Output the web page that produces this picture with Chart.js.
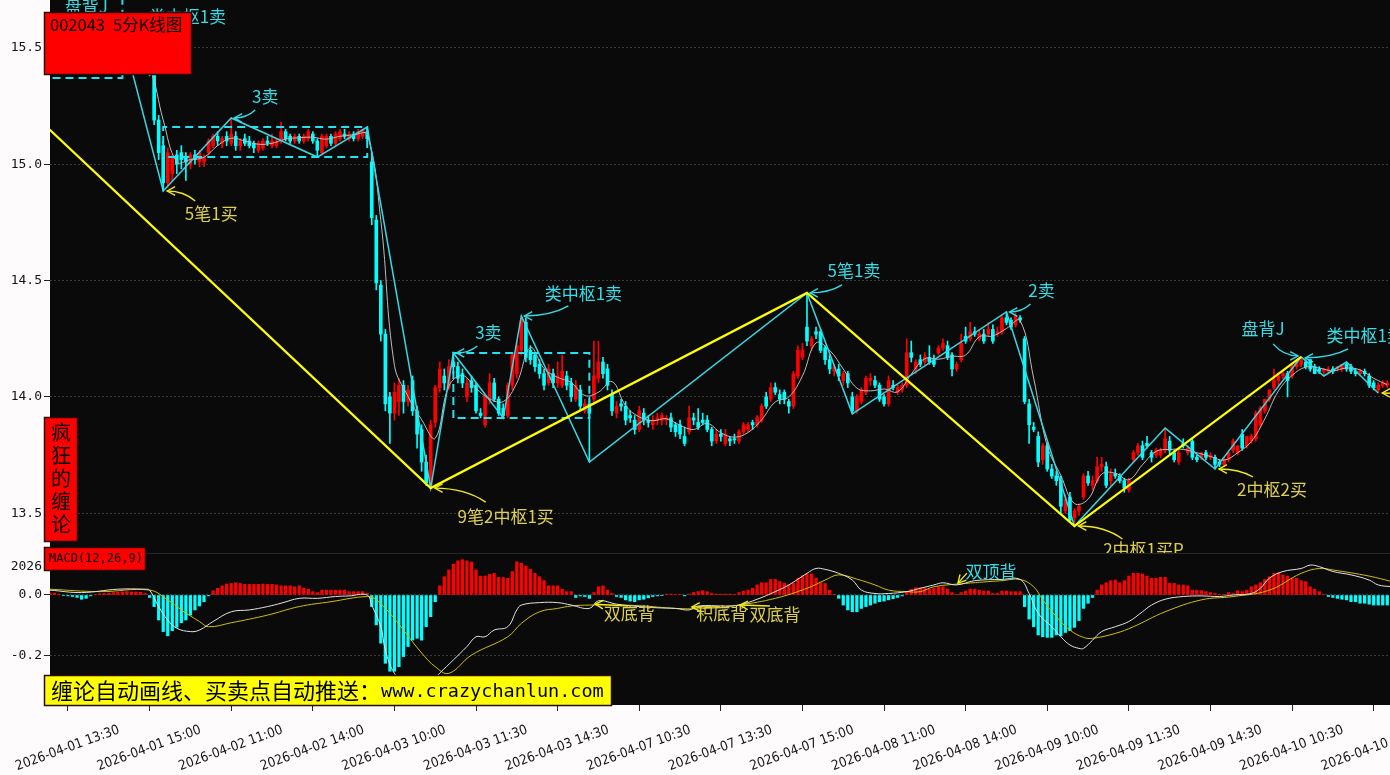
<!DOCTYPE html>
<html>
<head>
<meta charset="utf-8">
<script src="https://cdn.jsdelivr.net/npm/chart.js@4.4.1/dist/chart.umd.min.js"></script>
<style>
  html, body { margin: 0; padding: 0; background: #fdfbfb; }
  canvas { display: block; }
</style>
</head>
<body>
<canvas id="kline" width="1390" height="775"></canvas>
<script>
// 002043 5-minute bars, first bar = index -4 (2026-04-01 13:10)
const firstIdx = -4;

const opens = [
  // 04-01 13:10 - 15:00
  15.48,15.46,15.49,15.47,15.43,15.45,15.44,15.41,15.44,15.47,15.49,15.48,15.52,15.50,15.53,15.54,15.51,15.48,15.45,15.42,15.44,15.41,15.40,
  // 04-02
  15.39,15.19,15.08,14.92,14.96,15.04,15.05,15.03,15.00,15.04,15.01,15.01,15.05,15.08,15.12,15.09,15.12,15.09,15.12,15.08,15.11,15.10,15.09,15.06,
  15.07,15.10,15.08,15.08,15.10,15.14,15.12,15.10,15.12,15.10,15.11,15.13,15.10,15.05,15.08,15.12,15.09,15.11,15.13,15.11,15.13,15.11,15.12,15.14,
  // 04-03
  15.01,14.76,14.48,14.27,14.00,13.93,13.98,14.05,13.98,14.07,13.94,13.86,13.72,13.62,13.89,14.04,14.09,14.04,14.15,14.13,14.10,14.00,14.07,14.05,
  13.93,13.88,13.99,14.06,13.99,13.95,13.92,14.05,14.10,14.20,14.32,14.20,14.18,14.14,14.10,14.06,14.10,14.06,14.05,14.09,14.06,13.99,14.03,13.94,
  // 04-07
  13.97,13.99,14.08,14.15,14.12,14.01,13.93,13.97,13.96,13.92,13.90,13.86,13.93,13.90,13.88,13.90,13.90,13.90,13.91,13.88,13.88,13.83,13.85,13.91,
  13.89,13.90,13.90,13.86,13.81,13.84,13.80,13.82,13.82,13.81,13.85,13.86,13.89,13.88,13.90,14.00,13.99,14.04,14.01,14.02,13.98,13.96,14.09,14.17,
  // 04-08
  14.30,14.22,14.28,14.28,14.21,14.16,14.11,14.12,14.07,14.10,14.00,13.94,13.98,14.02,14.07,14.07,14.05,14.00,13.97,14.05,14.02,14.03,14.05,14.19,
  14.12,14.16,14.15,14.17,14.16,14.19,14.21,14.22,14.18,14.12,14.16,14.26,14.25,14.28,14.25,14.27,14.27,14.29,14.27,14.28,14.34,14.33,14.31,14.34,
  // 04-09
  14.25,13.97,13.87,13.83,13.73,13.79,13.69,13.66,13.64,13.51,13.57,13.48,13.51,13.57,13.66,13.62,13.64,13.70,13.70,13.64,13.67,13.66,13.64,13.60,
  13.73,13.76,13.79,13.80,13.76,13.75,13.75,13.77,13.81,13.76,13.72,13.80,13.76,13.81,13.74,13.74,13.76,13.74,13.74,13.72,13.71,13.73,13.77,13.76,
  // 04-10 09:35 - 13:45
  13.84,13.79,13.81,13.82,13.88,13.94,13.99,14.04,14.07,14.09,14.10,14.09,14.13,14.14,14.15,14.16,14.13,14.12,14.11,14.11,14.12,14.12,14.12,14.14,
  14.13,14.11,14.10,14.11,14.09,14.06,14.03,14.05,14.05
];
const highs = [
  15.52,15.50,15.51,15.49,15.46,15.48,15.46,15.45,15.48,15.50,15.52,15.53,15.54,15.54,15.55,15.55,15.56,15.50,15.47,15.45,15.46,15.43,15.42,
  15.40,15.21,15.10,15.07,15.04,15.06,15.08,15.05,15.05,15.06,15.06,15.04,15.11,15.13,15.14,15.12,15.14,15.199,15.14,15.11,15.13,15.12,15.10,15.10,
  15.11,15.12,15.13,15.11,15.18,15.15,15.13,15.13,15.13,15.13,15.15,15.14,15.11,15.13,15.13,15.13,15.14,15.15,15.15,15.14,15.14,15.15,15.15,15.16,
  15.05,14.78,14.50,14.29,14.02,14.06,14.08,14.07,14.05,14.09,13.96,13.88,13.75,13.90,14.05,14.15,14.12,14.16,14.189,14.15,14.12,14.08,14.09,14.06,
  13.95,14.01,14.10,14.08,14.00,13.97,14.06,14.19,14.24,14.348,14.34,14.22,14.19,14.16,14.12,14.14,14.12,14.15,14.18,14.11,14.08,14.07,14.05,13.99,
  14.00,14.24,14.24,14.17,14.14,14.03,13.98,13.99,13.98,13.94,13.92,13.96,13.95,13.92,13.92,13.93,13.93,13.92,13.93,13.89,13.90,13.87,13.96,13.93,
  13.95,13.93,13.92,13.87,13.86,13.86,13.86,13.83,13.84,13.86,13.89,13.89,13.90,13.92,13.97,14.02,14.06,14.06,14.03,14.03,13.99,14.11,14.22,14.23,
  14.447,14.26,14.30,14.29,14.22,14.18,14.14,14.14,14.11,14.11,14.02,14.01,14.04,14.09,14.10,14.09,14.06,14.01,14.09,14.07,14.05,14.06,14.25,14.24,
  14.16,14.18,14.19,14.22,14.18,14.22,14.25,14.24,14.19,14.15,14.27,14.30,14.32,14.30,14.29,14.29,14.32,14.31,14.30,14.35,14.365,14.34,14.36,14.35,
  14.26,13.99,13.89,13.85,13.80,13.80,13.71,13.68,13.66,13.58,13.59,13.52,13.54,13.67,13.68,13.66,13.74,13.74,13.72,13.69,13.69,13.67,13.65,13.65,
  13.77,13.80,13.81,13.83,13.77,13.78,13.78,13.866,13.83,13.77,13.77,13.82,13.79,13.82,13.75,13.76,13.77,13.76,13.75,13.73,13.74,13.76,13.82,13.79,
  13.86,13.83,13.84,13.94,13.96,13.99,14.03,14.12,14.10,14.11,14.11,14.14,14.16,14.172,14.16,14.16,14.14,14.13,14.12,14.13,14.13,14.13,14.14,14.15,
  14.14,14.12,14.12,14.12,14.10,14.07,14.06,14.07,14.07
];
const lows = [
  15.44,15.43,15.45,15.41,15.40,15.42,15.39,15.39,15.42,15.44,15.46,15.46,15.48,15.48,15.50,15.49,15.47,15.43,15.41,15.40,15.40,15.39,15.38,
  15.17,15.02,14.885,14.90,14.93,14.96,14.98,14.93,14.98,15.00,14.99,14.99,15.04,15.07,15.08,15.07,15.08,15.08,15.06,15.06,15.08,15.07,15.05,15.05,
  15.06,15.08,15.07,15.07,15.09,15.10,15.09,15.09,15.09,15.09,15.10,15.09,15.031,15.04,15.07,15.08,15.08,15.10,15.11,15.10,15.10,15.10,15.11,15.10,
  14.74,14.46,14.24,13.94,13.80,13.90,13.92,13.93,13.96,13.92,13.78,13.68,13.62,13.608,13.87,14.02,14.03,14.03,14.10,14.06,14.04,13.98,14.02,13.93,
  13.91,13.87,13.97,13.98,13.92,13.909,13.91,14.03,14.08,14.18,14.15,14.14,14.11,14.08,14.03,14.05,14.04,14.04,14.04,14.03,13.98,13.98,13.94,13.93,
  13.72,13.97,14.06,14.08,14.03,13.92,13.91,13.94,13.88,13.89,13.84,13.85,13.88,13.87,13.86,13.88,13.88,13.88,13.85,13.83,13.82,13.79,13.84,13.88,
  13.86,13.88,13.85,13.79,13.80,13.81,13.79,13.79,13.80,13.80,13.84,13.85,13.86,13.87,13.89,13.95,13.98,14.01,13.97,13.97,13.93,13.95,14.08,14.16,
  14.22,14.20,14.25,14.19,14.14,14.10,14.09,14.07,14.05,14.04,13.927,13.93,13.97,14.01,14.05,14.04,13.98,13.96,13.96,14.03,14.01,14.02,14.04,14.15,
  14.10,14.13,14.14,14.14,14.13,14.18,14.20,14.16,14.09,14.11,14.15,14.23,14.24,14.26,14.24,14.23,14.26,14.23,14.26,14.27,14.31,14.29,14.30,14.32,
  13.97,13.80,13.85,13.70,13.71,13.68,13.65,13.62,13.50,13.50,13.46,13.445,13.49,13.56,13.62,13.60,13.63,13.68,13.61,13.62,13.65,13.63,13.59,13.59,
  13.72,13.75,13.73,13.78,13.72,13.74,13.74,13.76,13.75,13.72,13.71,13.78,13.75,13.73,13.72,13.73,13.73,13.73,13.69,13.70,13.70,13.72,13.76,13.75,
  13.77,13.78,13.80,13.81,13.87,13.93,13.98,14.03,14.05,14.08,14.00,14.08,14.12,14.13,14.12,14.11,14.10,14.10,14.09,14.10,14.10,14.11,14.11,14.11,
  14.10,14.09,14.09,14.09,14.04,14.03,14.017,14.04,14.04
];
const closes = [
  15.46,15.49,15.47,15.43,15.45,15.44,15.41,15.44,15.47,15.49,15.48,15.52,15.50,15.53,15.54,15.51,15.48,15.45,15.42,15.44,15.41,15.40,15.39,
  15.19,15.05,14.92,15.05,15.03,15.00,15.02,15.01,15.04,15.02,15.05,15.03,15.10,15.12,15.10,15.11,15.10,15.13,15.08,15.10,15.09,15.08,15.07,15.09,
  15.10,15.09,15.10,15.10,15.14,15.11,15.10,15.12,15.10,15.12,15.14,15.10,15.06,15.12,15.12,15.09,15.13,15.14,15.12,15.13,15.11,15.14,15.15,15.11,
  14.77,14.49,14.27,13.97,13.93,14.02,14.05,13.98,14.03,13.94,13.84,13.72,13.63,13.88,14.04,14.12,14.06,14.13,14.13,14.08,14.06,14.06,14.04,13.94,
  13.92,14.00,14.06,13.99,13.93,13.92,14.05,14.18,14.22,14.33,14.17,14.16,14.13,14.10,14.05,14.12,14.06,14.09,14.11,14.05,14.00,14.05,13.96,13.97,
  13.93,14.09,14.15,14.10,14.05,13.94,13.96,13.96,13.90,13.91,13.86,13.94,13.90,13.89,13.90,13.91,13.92,13.91,13.87,13.85,13.84,13.80,13.91,13.90,
  13.87,13.89,13.86,13.81,13.84,13.83,13.84,13.81,13.815,13.85,13.88,13.88,13.88,13.91,13.96,13.96,14.04,14.02,13.99,13.99,13.96,14.10,14.20,14.20,
  14.24,14.25,14.27,14.20,14.16,14.12,14.13,14.09,14.10,14.06,13.94,14.00,14.03,14.08,14.08,14.05,13.99,13.97,14.07,14.04,14.04,14.05,14.19,14.17,
  14.15,14.14,14.17,14.15,14.14,14.21,14.23,14.17,14.12,14.14,14.23,14.24,14.28,14.27,14.27,14.24,14.29,14.24,14.28,14.34,14.32,14.30,14.35,14.33,
  13.98,13.88,13.86,13.72,13.79,13.69,13.66,13.64,13.53,13.56,13.47,13.51,13.53,13.66,13.63,13.64,13.70,13.71,13.62,13.67,13.66,13.64,13.61,13.64,
  13.76,13.79,13.74,13.79,13.74,13.77,13.77,13.82,13.77,13.73,13.76,13.79,13.78,13.74,13.73,13.76,13.74,13.75,13.71,13.71,13.73,13.76,13.81,13.79,
  13.78,13.83,13.83,13.93,13.95,13.99,14.03,14.07,14.09,14.10,14.07,14.13,14.15,14.16,14.13,14.12,14.10,14.11,14.12,14.12,14.11,14.13,14.14,14.12,
  14.11,14.10,14.11,14.10,14.05,14.04,14.05,14.06,14.06
];

// MA5 read every third bar, starting at index -3
const maStart = -3, maStep = 3;
const ma5 = [
  15.48,15.46,15.434,15.458,15.504,15.512,15.46,15.412,15.19,15.01,15.02,15.03,15.08,15.112,15.10,15.086,15.09,15.108,15.114,15.116,
  15.108,15.12,15.126,15.128,14.758,14.136,14.002,13.902,13.822,14.046,14.092,14.036,13.992,13.98,14.06,14.212,14.122,14.084,14.062,14.006,
  14.02,14.066,13.962,13.914,13.898,13.906,13.878,13.86,13.886,13.846,13.827,13.847,13.902,13.978,14.00,14.09,14.232,14.20,14.12,14.038,
  14.026,14.034,14.022,14.098,14.164,14.162,14.174,14.18,14.258,14.262,14.294,14.328,14.08,13.788,13.662,13.542,13.56,13.668,13.672,13.644,
  13.708,13.766,13.774,13.774,13.76,13.744,13.728,13.76,13.808,13.906,14.026,14.092,14.128,14.124,14.112,14.124,14.116,14.08,14.052
];

// MACD histogram, one per bar
const macdHist = [
  0.007,0.006,0.003,-0.002,-0.003,-0.005,-0.008,-0.014,-0.011,-0.003,0.002,0.004,0.005,0.006,0.008,0.009,0.010,0.011,0.010,0.010,0.009,0.005,-0.008,
  -0.038,-0.082,-0.120,-0.134,-0.117,-0.106,-0.091,-0.082,-0.066,-0.049,-0.036,-0.022,-0.003,0.014,0.022,0.030,0.036,0.038,0.040,0.038,0.035,0.035,0.035,0.035,
  0.036,0.035,0.035,0.033,0.030,0.030,0.030,0.027,0.030,0.022,0.019,0.011,0.008,0.016,0.016,0.016,0.016,0.016,0.016,0.011,0.011,0.011,0.011,0.005,
  -0.038,-0.098,-0.158,-0.224,-0.25,-0.25,-0.235,-0.202,-0.169,-0.148,-0.142,-0.148,-0.104,-0.071,-0.022,0.030,0.060,0.082,0.101,0.112,0.116,0.112,0.108,0.082,
  0.062,0.062,0.068,0.071,0.058,0.057,0.055,0.077,0.109,0.104,0.095,0.084,0.071,0.060,0.047,0.030,0.030,0.030,0.019,0.011,0.011,-0.008,-0.003,-0.005,
  -0.011,0.008,0.027,0.030,0.016,0.005,-0.005,-0.008,-0.016,-0.020,-0.022,-0.016,-0.014,-0.009,-0.005,-0.003,-0.001,0.003,0.003,0.002,0.002,-0.003,0.003,0.008,
  0.011,0.014,0.011,0.005,0.003,0.003,0.003,0.003,0.002,0.008,0.013,0.016,0.022,0.033,0.040,0.040,0.051,0.051,0.044,0.038,0.033,0.038,0.055,0.063,
  0.069,0.069,0.055,0.040,0.038,0.016,0.001,-0.011,-0.033,-0.049,-0.055,-0.055,-0.044,-0.038,-0.033,-0.027,-0.022,-0.020,-0.016,-0.012,-0.008,-0.003,0.011,0.019,
  0.024,0.024,0.022,0.019,0.022,0.027,0.027,0.019,0.008,0.001,0.008,0.013,0.019,0.019,0.016,0.013,0.013,0.005,0.005,0.013,0.013,0.011,0.011,0.011,
  -0.038,-0.079,-0.104,-0.131,-0.137,-0.139,-0.139,-0.131,-0.134,-0.123,-0.117,-0.106,-0.084,-0.044,-0.027,-0.008,0.016,0.033,0.040,0.047,0.049,0.040,0.047,0.062,
  0.071,0.071,0.069,0.062,0.055,0.055,0.058,0.058,0.038,0.038,0.033,0.033,0.030,0.016,0.016,0.014,0.011,0.008,0.005,0.001,0.001,0.008,0.005,0.014,
  0.011,0.016,0.027,0.033,0.040,0.051,0.060,0.071,0.073,0.066,0.062,0.055,0.055,0.047,0.044,0.027,0.019,0.011,0.001,-0.005,-0.008,-0.011,-0.014,-0.016,
  -0.022,-0.022,-0.027,-0.027,-0.030,-0.033,-0.033,-0.033,-0.033
];

// DIF / DEA read at [bar index, value]
const difPts = [
  [-4,0.016],[3,0.008],[11,0.019],[17,0.019],[18,0.016],[20,-0.038],[22,-0.082],[24,-0.109],[27,-0.120],[29,-0.115],[32,-0.087],[36,-0.055],
  [40,-0.049],[44,-0.038],[47,-0.027],[51,-0.011],[55,-0.011],[59,-0.005],[62,-0.003],[66,0.0],[67,-0.033],[69,-0.104],[70,-0.18],[72,-0.257],
  [75,-0.30],[78,-0.30],[80,-0.285],[82,-0.256],[85,-0.213],[88,-0.169],[90,-0.137],[92,-0.137],[94,-0.115],[97,-0.104],[99,-0.049],[100,-0.033],
  [104,-0.025],[108,-0.025],[111,-0.033],[115,-0.044],[117,-0.019],[121,-0.030],[126,-0.038],[130,-0.042],[134,-0.044],[137,-0.049],[139,-0.036],
  [145,-0.036],[148,-0.033],[152,-0.014],[156,0.011],[159,0.033],[163,0.071],[165,0.087],[167,0.084],[170,0.071],[173,0.049],[175,0.016],[178,0.005],
  [181,0.005],[185,0.011],[188,0.022],[191,0.033],[193,0.040],[196,0.033],[200,0.047],[206,0.051],[210,0.051],[212,0.005],[214,-0.060],[217,-0.104],
  [219,-0.137],[221,-0.164],[223,-0.175],[224,-0.175],[226,-0.148],[228,-0.120],[231,-0.104],[234,-0.087],[237,-0.055],[239,-0.033],[242,-0.014],
  [246,-0.005],[250,-0.003],[254,-0.005],[257,0.0],[261,0.005],[263,0.022],[265,0.055],[268,0.077],[272,0.087],[274,0.098],[276,0.093],[279,0.077],
  [283,0.066],[287,0.049],[289,0.033],[292,0.027]
];
const deaPts = [
  [-4,0.019],[7,0.011],[18,0.016],[22,-0.016],[25,-0.049],[29,-0.087],[31,-0.104],[36,-0.091],[44,-0.066],[51,-0.038],[58,-0.022],[66,-0.005],
  [68,-0.016],[71,-0.060],[74,-0.115],[78,-0.19],[81,-0.235],[84,-0.257],[89,-0.197],[97,-0.137],[100,-0.093],[104,-0.055],[108,-0.044],[111,-0.036],
  [115,-0.033],[119,-0.033],[126,-0.035],[134,-0.044],[141,-0.044],[148,-0.033],[156,-0.011],[163,0.022],[167,0.049],[170,0.066],[174,0.052],
  [178,0.033],[181,0.016],[185,0.011],[188,0.011],[191,0.027],[198,0.038],[206,0.047],[210,0.051],[213,0.027],[215,-0.016],[218,-0.071],[221,-0.115],
  [224,-0.139],[226,-0.142],[231,-0.126],[235,-0.104],[242,-0.055],[250,-0.016],[257,-0.005],[265,0.016],[272,0.071],[276,0.087],[279,0.082],
  [287,0.062],[292,0.044]
];

// strokes (bi), segments (xianduan) and pivot boxes
const biPts = [
  [-8,15.40],[12,15.56],[21,14.885],[36,15.199],[55,15.031],[66,15.16],[80,13.608],[85,14.189],[96,13.909],[100,14.348],[115,13.72],
  [163,14.447],[173,13.927],[207,14.365],[222,13.445],[242,13.866],[253,13.69],[272,14.172],[277,14.09],[282,14.15],[289,14.017]
];
const segPts = [[-30,15.624],[80,13.608],[163,14.447],[222,13.445],[272,14.172]];
const boxFrom = [-10, 21, 85];
const boxTo   = [12, 66, 115];
const boxLow  = [15.371, 15.031, 13.909];
const boxHigh = [15.75, 15.16, 14.189];

const tickIdx = [0,18,36,54,72,90,108,126,144,162,180,198,216,234,252,270,288];
const tickLabels = [
  '2026-04-01 13:30','2026-04-01 15:00','2026-04-02 11:00','2026-04-02 14:00','2026-04-03 10:00','2026-04-03 11:30',
  '2026-04-03 14:30','2026-04-07 10:30','2026-04-07 13:30','2026-04-07 15:00','2026-04-08 11:00','2026-04-08 14:00',
  '2026-04-09 10:00','2026-04-09 11:30','2026-04-09 14:30','2026-04-10 10:30','2026-04-10 13:30'
];
const priceTicks = [13.5, 14.0, 14.5, 15.0, 15.5];
const macdTicks = [-0.2, 0.0, 0.0918];
const macdTickLabels = ['-0.2', '0.0', '2026'];

const RED = '#ff0000', CYAN = '#00ffff';
const CYAN_TXT = '#35dde6', YEL_TXT = '#ddd050', YEL_ARROW = '#f2ec1a';

// buy / sell point labels: anchor (bar, price), text and arrow offsets in px
const signals = [
  {text:'盘背J',      i:12,  p:15.56,  c:CYAN_TXT, tx:-36, ty:-27, sx:-26, sy:-14, ex:-3, ey:-1},
  {text:'类中枢1卖',  i:12,  p:15.56,  c:CYAN_TXT, tx:65,  ty:-17, sx:40,  sy:-6,  ex:3,  ey:0},
  {text:'5笔1买',     i:21,  p:14.885, c:YEL_TXT,  tx:48,  ty:23,  sx:32,  sy:10,  ex:4,  ey:0, buy:true},
  {text:'3卖',        i:36,  p:15.199, c:CYAN_TXT, tx:34,  ty:-21, sx:24,  sy:-8,  ex:3,  ey:0},
  {text:'9笔2中枢1买', i:80,  p:13.608, c:YEL_TXT,  tx:75,  ty:28,  sx:55,  sy:14,  ex:4,  ey:0, buy:true},
  {text:'3卖',        i:85,  p:14.189, c:CYAN_TXT, tx:35,  ty:-20, sx:24,  sy:-7,  ex:3,  ey:0},
  {text:'类中枢1卖',  i:100, p:14.348, c:CYAN_TXT, tx:62,  ty:-22, sx:47,  sy:-10, ex:3,  ey:0},
  {text:'5笔1卖',     i:163, p:14.447, c:CYAN_TXT, tx:47,  ty:-22, sx:35,  sy:-8,  ex:3,  ey:0},
  {text:'2卖',        i:207, p:14.365, c:CYAN_TXT, tx:35,  ty:-21, sx:24,  sy:-8,  ex:3,  ey:0},
  {text:'2中枢1买P',  i:222, p:13.445, c:YEL_TXT,  tx:69,  ty:24,  sx:48,  sy:13,  ex:4,  ey:0, buy:true},
  {text:'2中枢2买',   i:253, p:13.69,  c:YEL_TXT,  tx:57,  ty:21,  sx:38,  sy:8,   ex:4,  ey:0, buy:true},
  {text:'盘背J',      i:272, p:14.172, c:CYAN_TXT, tx:-38, ty:-28, sx:-28, sy:-13, ex:-3, ey:-1},
  {text:'类中枢1卖',  i:272, p:14.172, c:CYAN_TXT, tx:64,  ty:-21, sx:47,  sy:-8,  ex:4,  ey:1},
  {text:'',           i:289, p:14.017, c:YEL_TXT,  tx:60,  ty:20,  sx:40,  sy:8,   ex:4,  ey:0, buy:true}
];
const macdSignals = [
  {text:'双底背', i:116.3, v:-0.030, c:YEL_TXT,  tx:34, ty:9,   sx:33, sy:2},
  {text:'积底背', i:137.6, v:-0.039, c:YEL_TXT,  tx:30, ty:7,   sx:28, sy:0},
  {text:'双底背', i:148.2, v:-0.033, c:YEL_TXT,  tx:35, ty:9,   sx:30, sy:1},
  {text:'双顶背', i:196.3, v:0.039,  c:CYAN_TXT, tx:33, ty:-12, sx:9,  sy:-10}
];

const barIdx = opens.map((_, k) => firstIdx + k);
const candleColor = opens.map((o, k) => closes[k] >= o ? RED : CYAN);
const pts = arr => arr.map(([x, y]) => ({x, y}));

const boxDatasets = boxFrom.map((l, k) => ({
  type: 'line', yAxisID: 'price', order: 4,
  data: [{x:l, y:boxLow[k]}, {x:l, y:boxHigh[k]}, {x:boxTo[k], y:boxHigh[k]}, {x:boxTo[k], y:boxLow[k]}, {x:l, y:boxLow[k]}],
  borderColor: '#22e3f0', borderWidth: 2, borderDash: [8, 5], pointRadius: 0, tension: 0
}));

function drawArrow(ctx, sx, sy, ex, ey, color, curved) {
  const cx = curved ? sx + (ex - sx) * 0.4 : (sx + ex) / 2;
  const cy = curved ? ey : (sy + ey) / 2;
  ctx.strokeStyle = color;
  ctx.lineWidth = 1.4;
  ctx.beginPath();
  ctx.moveTo(sx, sy);
  ctx.quadraticCurveTo(cx, cy, ex, ey);
  ctx.stroke();
  const a = Math.atan2(ey - cy, ex - cx);
  ctx.beginPath();
  ctx.moveTo(ex - 9 * Math.cos(a - 0.5), ey - 9 * Math.sin(a - 0.5));
  ctx.lineTo(ex, ey);
  ctx.lineTo(ex - 9 * Math.cos(a + 0.5), ey - 9 * Math.sin(a + 0.5));
  ctx.stroke();
}

function labelBox(ctx, x, y, w, h, fill) {
  ctx.fillStyle = fill;
  ctx.fillRect(x, y, w, h);
  ctx.strokeStyle = '#2a0a0a';
  ctx.lineWidth = 1.5;
  ctx.strokeRect(x + 0.5, y + 0.5, w - 1, h - 1);
}

const overlay = {
  id: 'overlay',
  beforeDraw(chart) {
    const {ctx, chartArea: a} = chart;
    ctx.save();
    ctx.fillStyle = '#fdfbfb';
    ctx.fillRect(0, 0, chart.width, chart.height);
    ctx.fillStyle = '#0a0a0a';
    ctx.fillRect(a.left, a.top, a.right - a.left, a.bottom - a.top);
    ctx.restore();
  },
  afterDatasetsDraw(chart) {
    const {ctx, chartArea: a} = chart;
    const xs = chart.scales.x, ps = chart.scales.price, ms = chart.scales.macd;
    ctx.save();
    ctx.beginPath();
    ctx.rect(a.left, ps.top, a.right - a.left, ps.bottom - ps.top);
    ctx.clip();
    ctx.font = '17px "Noto Sans CJK SC", sans-serif';
    ctx.textAlign = 'center';
    ctx.textBaseline = 'middle';
    signals.forEach(s => {
      const ax = xs.getPixelForValue(s.i), ay = ps.getPixelForValue(s.p);
      drawArrow(ctx, ax + s.sx, ay + s.sy, ax + s.ex, ay + s.ey, s.buy ? YEL_ARROW : CYAN_TXT, true);
      if (s.text) {
        ctx.fillStyle = s.c;
        ctx.fillText(s.text, ax + s.tx, ay + s.ty);
      }
    });
    ctx.restore();

    ctx.save();
    ctx.strokeStyle = '#262626';
    ctx.lineWidth = 1;
    ctx.beginPath();
    ctx.moveTo(a.left, ms.top + 0.5);
    ctx.lineTo(a.right, ms.top + 0.5);
    ctx.stroke();
    ctx.font = '17px "Noto Sans CJK SC", sans-serif';
    ctx.textAlign = 'center';
    ctx.textBaseline = 'middle';
    macdSignals.forEach(s => {
      const ax = xs.getPixelForValue(s.i), ay = ms.getPixelForValue(s.v);
      drawArrow(ctx, ax + s.sx, ay + s.sy, ax, ay, YEL_ARROW, false);
      ctx.fillStyle = s.c;
      ctx.fillText(s.text, ax + s.tx, ay + s.ty);
    });
    ctx.restore();
  },
  afterDraw(chart) {
    const ctx = chart.ctx;
    ctx.save();
    ctx.textBaseline = 'middle';
    ctx.textAlign = 'left';
    // title
    labelBox(ctx, 44, 12, 148, 63, '#ff0000');
    ctx.fillStyle = '#000';
    ctx.font = '16.5px "Noto Sans CJK SC", sans-serif';
    ctx.fillText('002043', 50, 25);
    ctx.fillText('5分K线图', 113, 25);
    // side tag
    labelBox(ctx, 44, 417, 34, 125, '#ff0000');
    ctx.fillStyle = '#000';
    ctx.font = '20px "Noto Sans CJK SC", sans-serif';
    ctx.textAlign = 'center';
    ['疯', '狂', '的', '缠', '论'].forEach((ch, k) => ctx.fillText(ch, 61, 432 + k * 23));
    // MACD tag
    labelBox(ctx, 44, 547, 102, 24, '#ff0000');
    ctx.textAlign = 'left';
    ctx.font = '12px "DejaVu Sans Mono", monospace';
    ctx.fillStyle = '#000';
    ctx.fillText('MACD(12,26,9)', 49, 559);
    // footer banner
    labelBox(ctx, 44, 675, 568, 31, '#ffff00');
    ctx.fillStyle = '#000';
    ctx.font = '22px "Noto Sans CJK SC", sans-serif';
    const cn = '缠论自动画线、买卖点自动推送：';
    ctx.fillText(cn, 51, 691);
    const w = ctx.measureText(cn).width;
    ctx.font = '18.5px "DejaVu Sans Mono", monospace';
    ctx.fillText('www.crazychanlun.com', 51 + w, 692);
    ctx.restore();
  }
};

Chart.defaults.font.family = '"DejaVu Sans Mono", monospace';

new Chart(document.getElementById('kline'), {
  type: 'bar',
  data: {
    datasets: [
      {
        type: 'bar', yAxisID: 'price', order: 10, grouped: false,
        data: barIdx.map((x, k) => ({x, y: [lows[k], highs[k]]})),
        backgroundColor: candleColor, barThickness: 1, minBarLength: 1
      },
      {
        type: 'bar', yAxisID: 'price', order: 9, grouped: false,
        data: barIdx.map((x, k) => ({x, y: [opens[k], closes[k]]})),
        backgroundColor: candleColor, barThickness: 3, minBarLength: 1
      },
      {
        type: 'line', yAxisID: 'price', order: 8,
        data: ma5.map((v, k) => ({x: maStart + k * maStep, y: v})),
        borderColor: '#bcbcbc', borderWidth: 1, pointRadius: 0, tension: 0.4
      },
      {
        type: 'line', yAxisID: 'price', order: 5,
        data: pts(biPts), borderColor: '#3ad6e2', borderWidth: 1.5, pointRadius: 0, tension: 0
      },
      ...boxDatasets,
      {
        type: 'line', yAxisID: 'price', order: 3,
        data: pts(segPts), borderColor: '#ffff00', borderWidth: 2.2, pointRadius: 0, tension: 0
      },
      {
        type: 'bar', yAxisID: 'macd', order: 7, grouped: false,
        data: barIdx.map((x, k) => ({x, y: macdHist[k]})),
        backgroundColor: macdHist.map(v => v >= 0 ? RED : CYAN), barThickness: 2.6
      },
      {
        type: 'line', yAxisID: 'macd', order: 2,
        data: pts(difPts), borderColor: '#e2e2e2', borderWidth: 1, pointRadius: 0, tension: 0.4
      },
      {
        type: 'line', yAxisID: 'macd', order: 2,
        data: pts(deaPts), borderColor: '#cfc000', borderWidth: 1, pointRadius: 0, tension: 0.4
      }
    ]
  },
  options: {
    responsive: false,
    animation: false,
    layout: { padding: 0 },
    plugins: { legend: { display: false }, tooltip: { enabled: false } },
    scales: {
      x: {
        type: 'linear', min: -3.97, max: 291.6, offset: false,
        afterBuildTicks: s => { s.ticks = tickIdx.map(v => ({value: v})); },
        afterFit: s => { s.height = 70; s.paddingLeft = 0; s.paddingRight = 0; },
        ticks: {
          autoSkip: false, minRotation: 20, maxRotation: 20, labelOffset: 51, padding: 11,
          color: '#151515', font: { family: '"DejaVu Sans Condensed", "Liberation Sans Narrow", "DejaVu Sans", sans-serif', size: 13.5 },
          callback: (v, i) => tickLabels[i]
        },
        grid: { drawOnChartArea: false, drawTicks: true, tickLength: 6, tickColor: '#222', offset: false },
        border: { display: false }
      },
      macd: {
        type: 'linear', position: 'left', stack: 'panes', stackWeight: 152,
        min: -0.3607, max: 0.1377,
        afterBuildTicks: s => { s.ticks = macdTicks.map(v => ({value: v})); },
        afterFit: s => { s.width = 50; s.paddingTop = 0; s.paddingBottom = 0; },
        ticks: { color: '#151515', font: { size: 13 }, padding: 2, callback: (v, i) => macdTickLabels[i] },
        grid: {
          color: c => (c.tick && c.tick.value > 0.05) ? 'rgba(0,0,0,0)' : '#3a3a3a',
          tickColor: '#222', tickLength: 6
        },
        border: { display: false, dash: [2, 2] }
      },
      price: {
        type: 'linear', position: 'left', stack: 'panes', stackWeight: 553,
        min: 13.329, max: 15.706,
        afterBuildTicks: s => { s.ticks = priceTicks.map(v => ({value: v})); },
        afterFit: s => { s.width = 50; s.paddingTop = 0; s.paddingBottom = 0; },
        ticks: { color: '#151515', font: { size: 13 }, padding: 2, callback: v => v.toFixed(1) },
        grid: { color: '#3a3a3a', tickColor: '#222', tickLength: 6 },
        border: { display: false, dash: [2, 2] }
      }
    }
  },
  plugins: [overlay]
});
</script>
</body>
</html>
